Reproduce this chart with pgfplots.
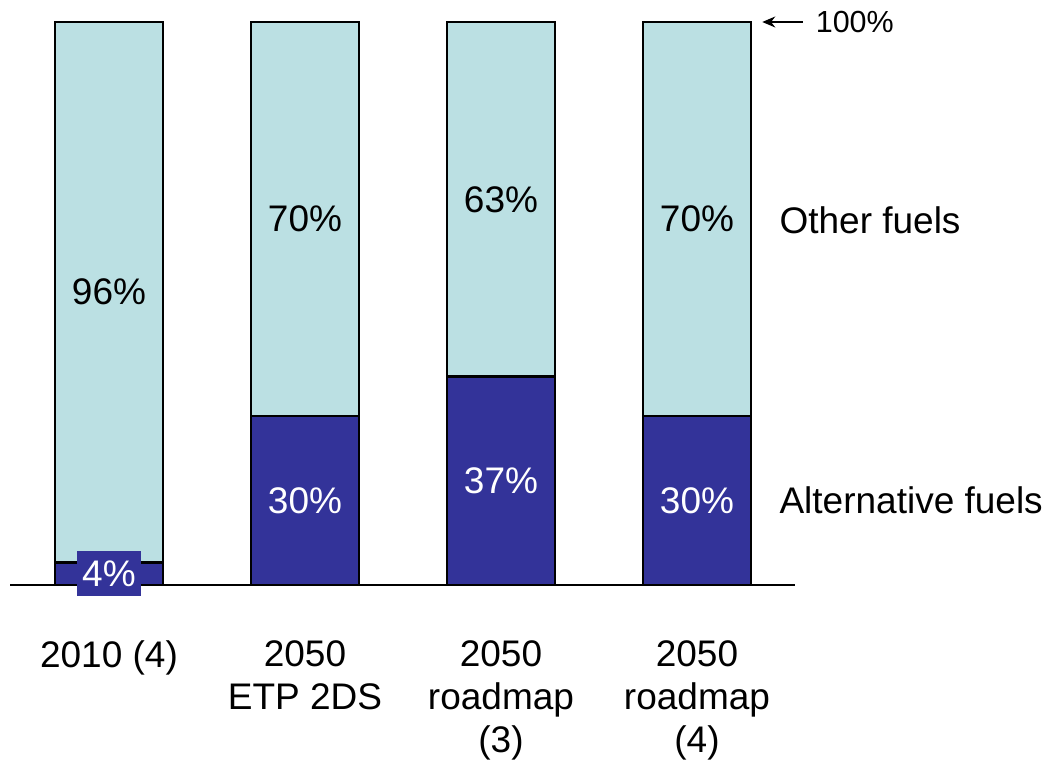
\documentclass[border=0pt]{standalone}
\usepackage{pgfplots}
\pgfplotsset{compat=1.18}
\usepackage{pgfplotstable}
\usetikzlibrary{arrows.meta}
\usepackage{fontspec}
\setmainfont{Liberation Sans}
\definecolor{altblue}{HTML}{333399}
\definecolor{otherfill}{HTML}{BBE0E3}
\pgfplotstableread{
x alt other
0 4 96
1 30 70
2 37 63
3 30 70
}\datatable
\pgfplotstableread{
x y lab
1 65 {70\%}
2 68.5 {63\%}
3 65 {70\%}
0 52 {96\%}
}\toplabels
\pgfplotstableread{
x y lab
1 15 {30\%}
2 18.5 {37\%}
3 15 {30\%}
}\botlabels
\newcommand{\bigfont}{\fontsize{37}{43}\selectfont}
\begin{document}
\begin{tikzpicture}
\useasboundingbox (-10pt,-177pt) rectangle (1038pt,585pt);
\pgfplotsset{common/.style={scale only axis, width=785pt, height=563pt, xmin=-0.505, xmax=3.5, ymin=0, ymax=100, clip=false}}
\begin{axis}[common, ybar stacked, bar width=108pt,
  axis y line=none, axis x line*=bottom,
  x axis line style={line width=2pt, black, -},
  xtick=data, xticklabels={{2010 (4)},{2050\\ETP 2DS},{2050\\roadmap\\(3)},{2050\\roadmap\\(4)}},
  major tick length=0pt,
  xticklabel style={align=center, font=\bigfont, anchor=north, inner sep=0pt, yshift=-55pt},
  ]
\addplot[fill=altblue, draw=black, line width=2.5pt] table[x=x,y=alt]{\datatable};
\addplot[fill=otherfill, draw=black, line width=2.5pt] table[x=x,y=other]{\datatable};
\draw[{Stealth[length=13pt,width=11pt]}-, line width=1.5pt] (axis cs:3.333,100) -- (axis cs:3.54,100);
\node[anchor=west, inner sep=0pt, font=\fontsize{30.5}{35}\selectfont] at (axis cs:3.605,100) {100\%};
\node[anchor=west, inner sep=0pt, font=\bigfont] at (axis cs:3.42,64.8) {Other fuels};
\node[anchor=west, inner sep=0pt, font=\bigfont] at (axis cs:3.42,15.1) {Alternative fuels};
\end{axis}
\begin{axis}[common, hide axis]
\addplot[draw=none, mark=none, nodes near coords, point meta=explicit symbolic,
  nodes near coords style={anchor=center, font=\bigfont, text=black}]
  table[x=x, y=y, meta=lab]{\toplabels};
\addplot[draw=none, mark=none, nodes near coords, point meta=explicit symbolic,
  nodes near coords style={anchor=center, font=\bigfont, text=white}]
  table[x=x, y=y, meta=lab]{\botlabels};
\addplot[draw=none, mark=none, nodes near coords, point meta=explicit symbolic,
  nodes near coords style={anchor=center, font=\bigfont, text=white, fill=altblue, inner sep=5pt, minimum height=45pt}]
  coordinates {(0,2) [4\%]};
\end{axis}
\end{tikzpicture}
\end{document}
